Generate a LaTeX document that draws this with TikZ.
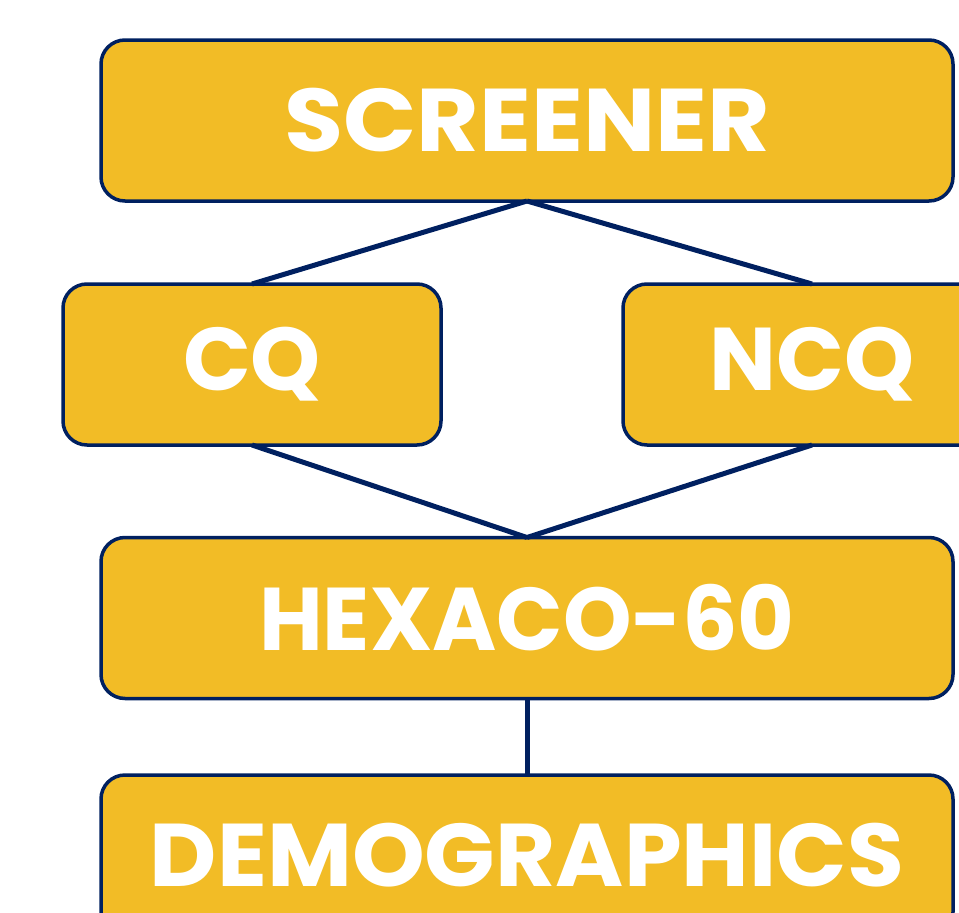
\documentclass[tikz,border=0pt]{standalone}
\usepackage{fontspec}
\setmainfont{Poppins}[BoldFont={* Bold}]
\definecolor{boxfill}{HTML}{F2BC26}
\definecolor{navy}{HTML}{002060}
\begin{document}
\begin{tikzpicture}[x=1pt,y=-1pt,
  stage/.style={draw=navy, line width=3.5pt, fill=boxfill, rounded corners=24pt,
    minimum height=161pt, inner sep=0pt, outer sep=0pt, text=white,
    font=\fontsize{89}{89}\selectfont\bfseries},
  link/.style={draw=navy, line width=5pt}]
\useasboundingbox (0,0) rectangle (959,913);
\begin{scope}
\clip (0,0) rectangle (959,913);
\node[stage, minimum width=852pt] (scr) at (527,120.5) {\scalebox{1.08}[1]{SCREENER}};
\node[stage, minimum width=378pt] (cq) at (252,364.5) {CQ};
\node[stage, minimum width=378pt] (ncq) at (812,364.5) {NCQ};
\node[stage, minimum width=852pt] (hex) at (527,618) {\scalebox{0.98}[1]{HEXACO-60}};
\node[stage, minimum width=852pt] (demo) at (527,855.5) {\scalebox{1.04}[1]{DEMOGRAPHICS}};
\draw[link] (scr.south) -- (cq.north);
\draw[link] (scr.south) -- (ncq.north);
\draw[link] (cq.south) -- (hex.north);
\draw[link] (ncq.south) -- (hex.north);
\draw[link] (hex.south) -- (demo.north);
\end{scope}
\end{tikzpicture}
\end{document}
